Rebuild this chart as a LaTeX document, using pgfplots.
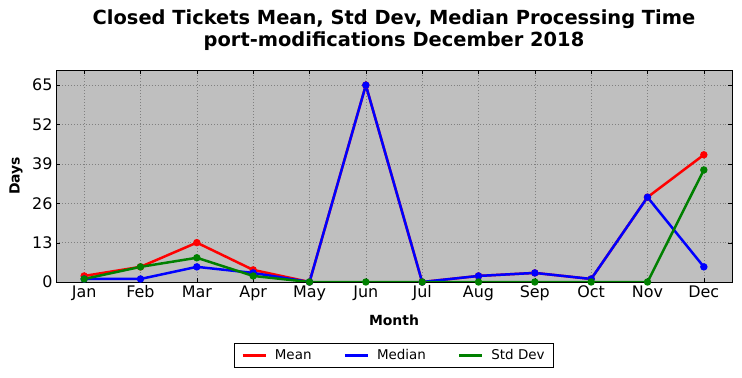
\documentclass[border=0pt]{standalone}
\usepackage{fontspec}
\setmainfont{DejaVu Sans}
\usepackage{pgfplots}
\pgfplotsset{compat=1.18}
\definecolor{bggray}{RGB}{191,191,191}
\definecolor{mgreen}{RGB}{0,128,0}
\begin{document}
\begin{tikzpicture}
\useasboundingbox (0,0) rectangle (742bp,378bp);
\begin{axis}[
  at={(56bp,96bp)}, anchor=south west,
  scale only axis, width=676bp, height=212bp,
  xmin=-0.5, xmax=11.5, ymin=0, ymax=70,
  xtick={0,...,11},
  xticklabels={Jan,Feb,Mar,Apr,May,Jun,Jul,Aug,Sep,Oct,Nov,Dec},
  ytick={0,13,26,39,52,65},
  tick align=inside, tick pos=both,
  major tick length=4bp,
  axis background/.style={fill=bggray},
  grid=major, grid style={black!50, dash pattern=on 1pt off 2pt, line width=0.5pt},
  axis line style={black, line width=0.8pt},
  tick style={black},
  ticklabel style={font=\fontsize{16}{18}\selectfont},
  /pgf/number format/assume math mode=true,
  xlabel={\textbf{Month}}, ylabel={\textbf{Days}},
  label style={font=\fontsize{14}{16}\selectfont},
  xlabel style={at={(axis description cs:0.5,-0.179)}, anchor=center},
  ylabel style={at={(axis description cs:-0.059,0.5)}, anchor=center},
  title={\textbf{Closed Tickets Mean, Std Dev, Median Processing Time}\\\textbf{port-modifications December 2018}},
  title style={font=\fontsize{19.5}{22}\selectfont, align=center, at={(axis description cs:0.5,1.16)}, anchor=center},
  legend columns=3,
  legend style={at={(axis description cs:0.5,-0.288)}, anchor=north, draw=black, line width=0.8pt,
    font=\fontsize{13.5}{16}\selectfont, inner xsep=7bp, inner ysep=4bp,
    /tikz/every odd column/.append style={column sep=6bp},
    /tikz/every even column/.append style={column sep=30bp}},
  legend image code/.code={\draw[#1, line width=2.5pt] (0bp,0bp) -- (23bp,0bp);},
  every axis plot/.append style={line width=2.5pt, mark=*, mark size=2.4pt,
    mark options={draw=black!75, line width=0.5pt}},
]
\addplot[red, mark options={fill=red}] coordinates {
(0,2) (1,5) (2,13) (3,4) (4,0) (5,65) (6,0) (7,2) (8,3) (9,1) (10,28) (11,42)};
\addlegendentry{Mean}
\addplot[blue, mark options={fill=blue}] coordinates {
(0,1) (1,1) (2,5) (3,3) (4,0) (5,65) (6,0) (7,2) (8,3) (9,1) (10,28) (11,5)};
\addlegendentry{Median}
\addplot[mgreen, mark options={fill=mgreen}] coordinates {
(0,1) (1,5) (2,8) (3,2) (4,0) (5,0) (6,0) (7,0) (8,0) (9,0) (10,0) (11,37)};
\addlegendentry{Std Dev}
\end{axis}
\end{tikzpicture}
\end{document}
